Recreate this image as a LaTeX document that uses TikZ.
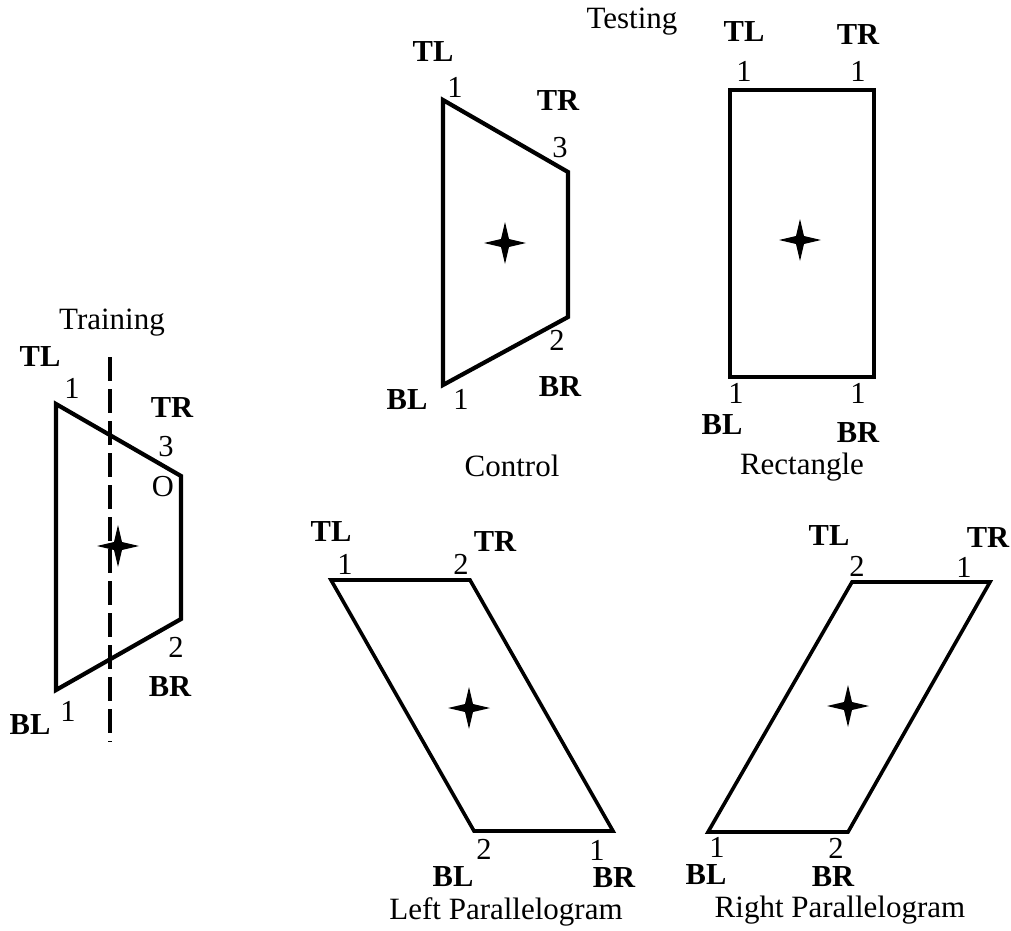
\documentclass[tikz,border=0pt]{standalone}
\usepackage{fontspec}
\setmainfont{Liberation Serif}
\begin{document}
\begin{tikzpicture}[x=1pt,y=-1pt,
  shape line/.style={line width=4.2pt,line join=miter},
  lbl/.style={font=\fontsize{30.5}{30.5}\selectfont\bfseries,inner sep=0pt},
  num/.style={font=\fontsize{30.5}{30.5}\selectfont,inner sep=0pt},
  title/.style={font=\fontsize{31}{31}\selectfont,inner sep=0pt},
  star/.pic={\fill (0,-21) -- (4,-4) -- (21,0) -- (4,4) -- (0,21) -- (-4,4) -- (-21,0) -- (-4,-4) -- cycle;}]
\useasboundingbox (0,0) rectangle (1011,930);

% ---- Training trapezoid ----
\coordinate (aTL) at (56,404);
\coordinate (aTR) at (181,476);
\coordinate (aBR) at (181,619);
\coordinate (aBL) at (56,690);
\draw[shape line] (aTL) -- (aTR) -- (aBR) -- (aBL) -- cycle;
\coordinate (axisTop) at (110,357);
\coordinate (axisBot) at (110,742);
\draw[line width=3.2pt,dash pattern=on 24pt off 8pt] (axisTop) -- (axisBot);
\pic at (118,546) {star};
\node[title] (trainT) at (112,323) {Training};
\node[lbl] (aTLl) at (40,357) {TL};
\node[num] (aTLn) at (72,388) {1};
\node[lbl] (aTRl) at (172,408) {TR};
\node[num] (aTRn) at (166,447) {3};
\node[num] (aO) at (163,487) {O};
\node[num] (aBRn) at (176,647) {2};
\node[lbl] (aBRl) at (170,687) {BR};
\node[lbl] (aBLl) at (30,725) {BL};
\node[num] (aBLn) at (68,711) {1};

% ---- Control trapezoid ----
\coordinate (cTL) at (443,100);
\coordinate (cTR) at (568,172);
\coordinate (cBR) at (568,317);
\coordinate (cBL) at (443,385);
\draw[shape line] (cTL) -- (cTR) -- (cBR) -- (cBL) -- cycle;
\pic at (505,243) {star};
\node[lbl] (cTLl) at (433,52) {TL};
\node[num] (cTLn) at (455,87) {1};
\node[lbl] (cTRl) at (558,101) {TR};
\node[num] (cTRn) at (560,148) {3};
\node[num] (cBRn) at (557,340) {2};
\node[lbl] (cBRl) at (560,387) {BR};
\node[lbl] (cBLl) at (407,400) {BL};
\node[num] (cBLn) at (461,399) {1};
\node[title] (ctrlT) at (512,466) {Control};
\node[title] (testT) at (632,22) {Testing};

% ---- Rectangle ----
\coordinate (rTL) at (730,90);
\coordinate (rTR) at (874,90);
\coordinate (rBR) at (874,377);
\coordinate (rBL) at (730,377);
\draw[shape line] (rTL) -- (rTR) -- (rBR) -- (rBL) -- cycle;
\pic at (800,240) {star};
\node[lbl] (rTLl) at (744,32) {TL};
\node[lbl] (rTRl) at (858,35) {TR};
\node[num] (rTLn) at (744,71) {1};
\node[num] (rTRn) at (858,71) {1};
\node[num] (rBLn) at (736,393) {1};
\node[num] (rBRn) at (858,393) {1};
\node[lbl] (rBLl) at (722,425) {BL};
\node[lbl] (rBRl) at (858,433) {BR};
\node[title] (rectT) at (802,467) {Rectangle};

% ---- Left parallelogram ----
\coordinate (lTL) at (331,580);
\coordinate (lTR) at (470,580);
\coordinate (lBR) at (613,831);
\coordinate (lBL) at (474,831);
\draw[shape line,line width=3.6pt] (lTL) -- (lTR) -- (lBR) -- (lBL) -- cycle;
\pic at (469,708) {star};
\node[lbl] (lTLl) at (331,532) {TL};
\node[num] (lTLn) at (345,564) {1};
\node[num] (lTRn) at (461,564) {2};
\node[lbl] (lTRl) at (495,542) {TR};
\node[num] (lBLn) at (484,849) {2};
\node[num] (lBRn) at (597,850) {1};
\node[lbl] (lBLl) at (453,877) {BL};
\node[lbl] (lBRl) at (614,878) {BR};
\node[title] (leftT) at (506,912) {Left Parallelogram};

% ---- Right parallelogram ----
\coordinate (pTL) at (852,582);
\coordinate (pTR) at (990,582);
\coordinate (pBR) at (848,832);
\coordinate (pBL) at (708,832);
\draw[shape line,line width=3.6pt] (pTL) -- (pTR) -- (pBR) -- (pBL) -- cycle;
\pic at (848,706) {star};
\node[lbl] (pTLl) at (829,536) {TL};
\node[lbl] (pTRl) at (988,538) {TR};
\node[num] (pTLn) at (857,566) {2};
\node[num] (pTRn) at (964,567) {1};
\node[num] (pBLn) at (717,847) {1};
\node[num] (pBRn) at (836,848) {2};
\node[lbl] (pBLl) at (706,875) {BL};
\node[lbl] (pBRl) at (833,877) {BR};
\node[title] (rightT) at (840,910) {Right Parallelogram};
\end{tikzpicture}
\end{document}
